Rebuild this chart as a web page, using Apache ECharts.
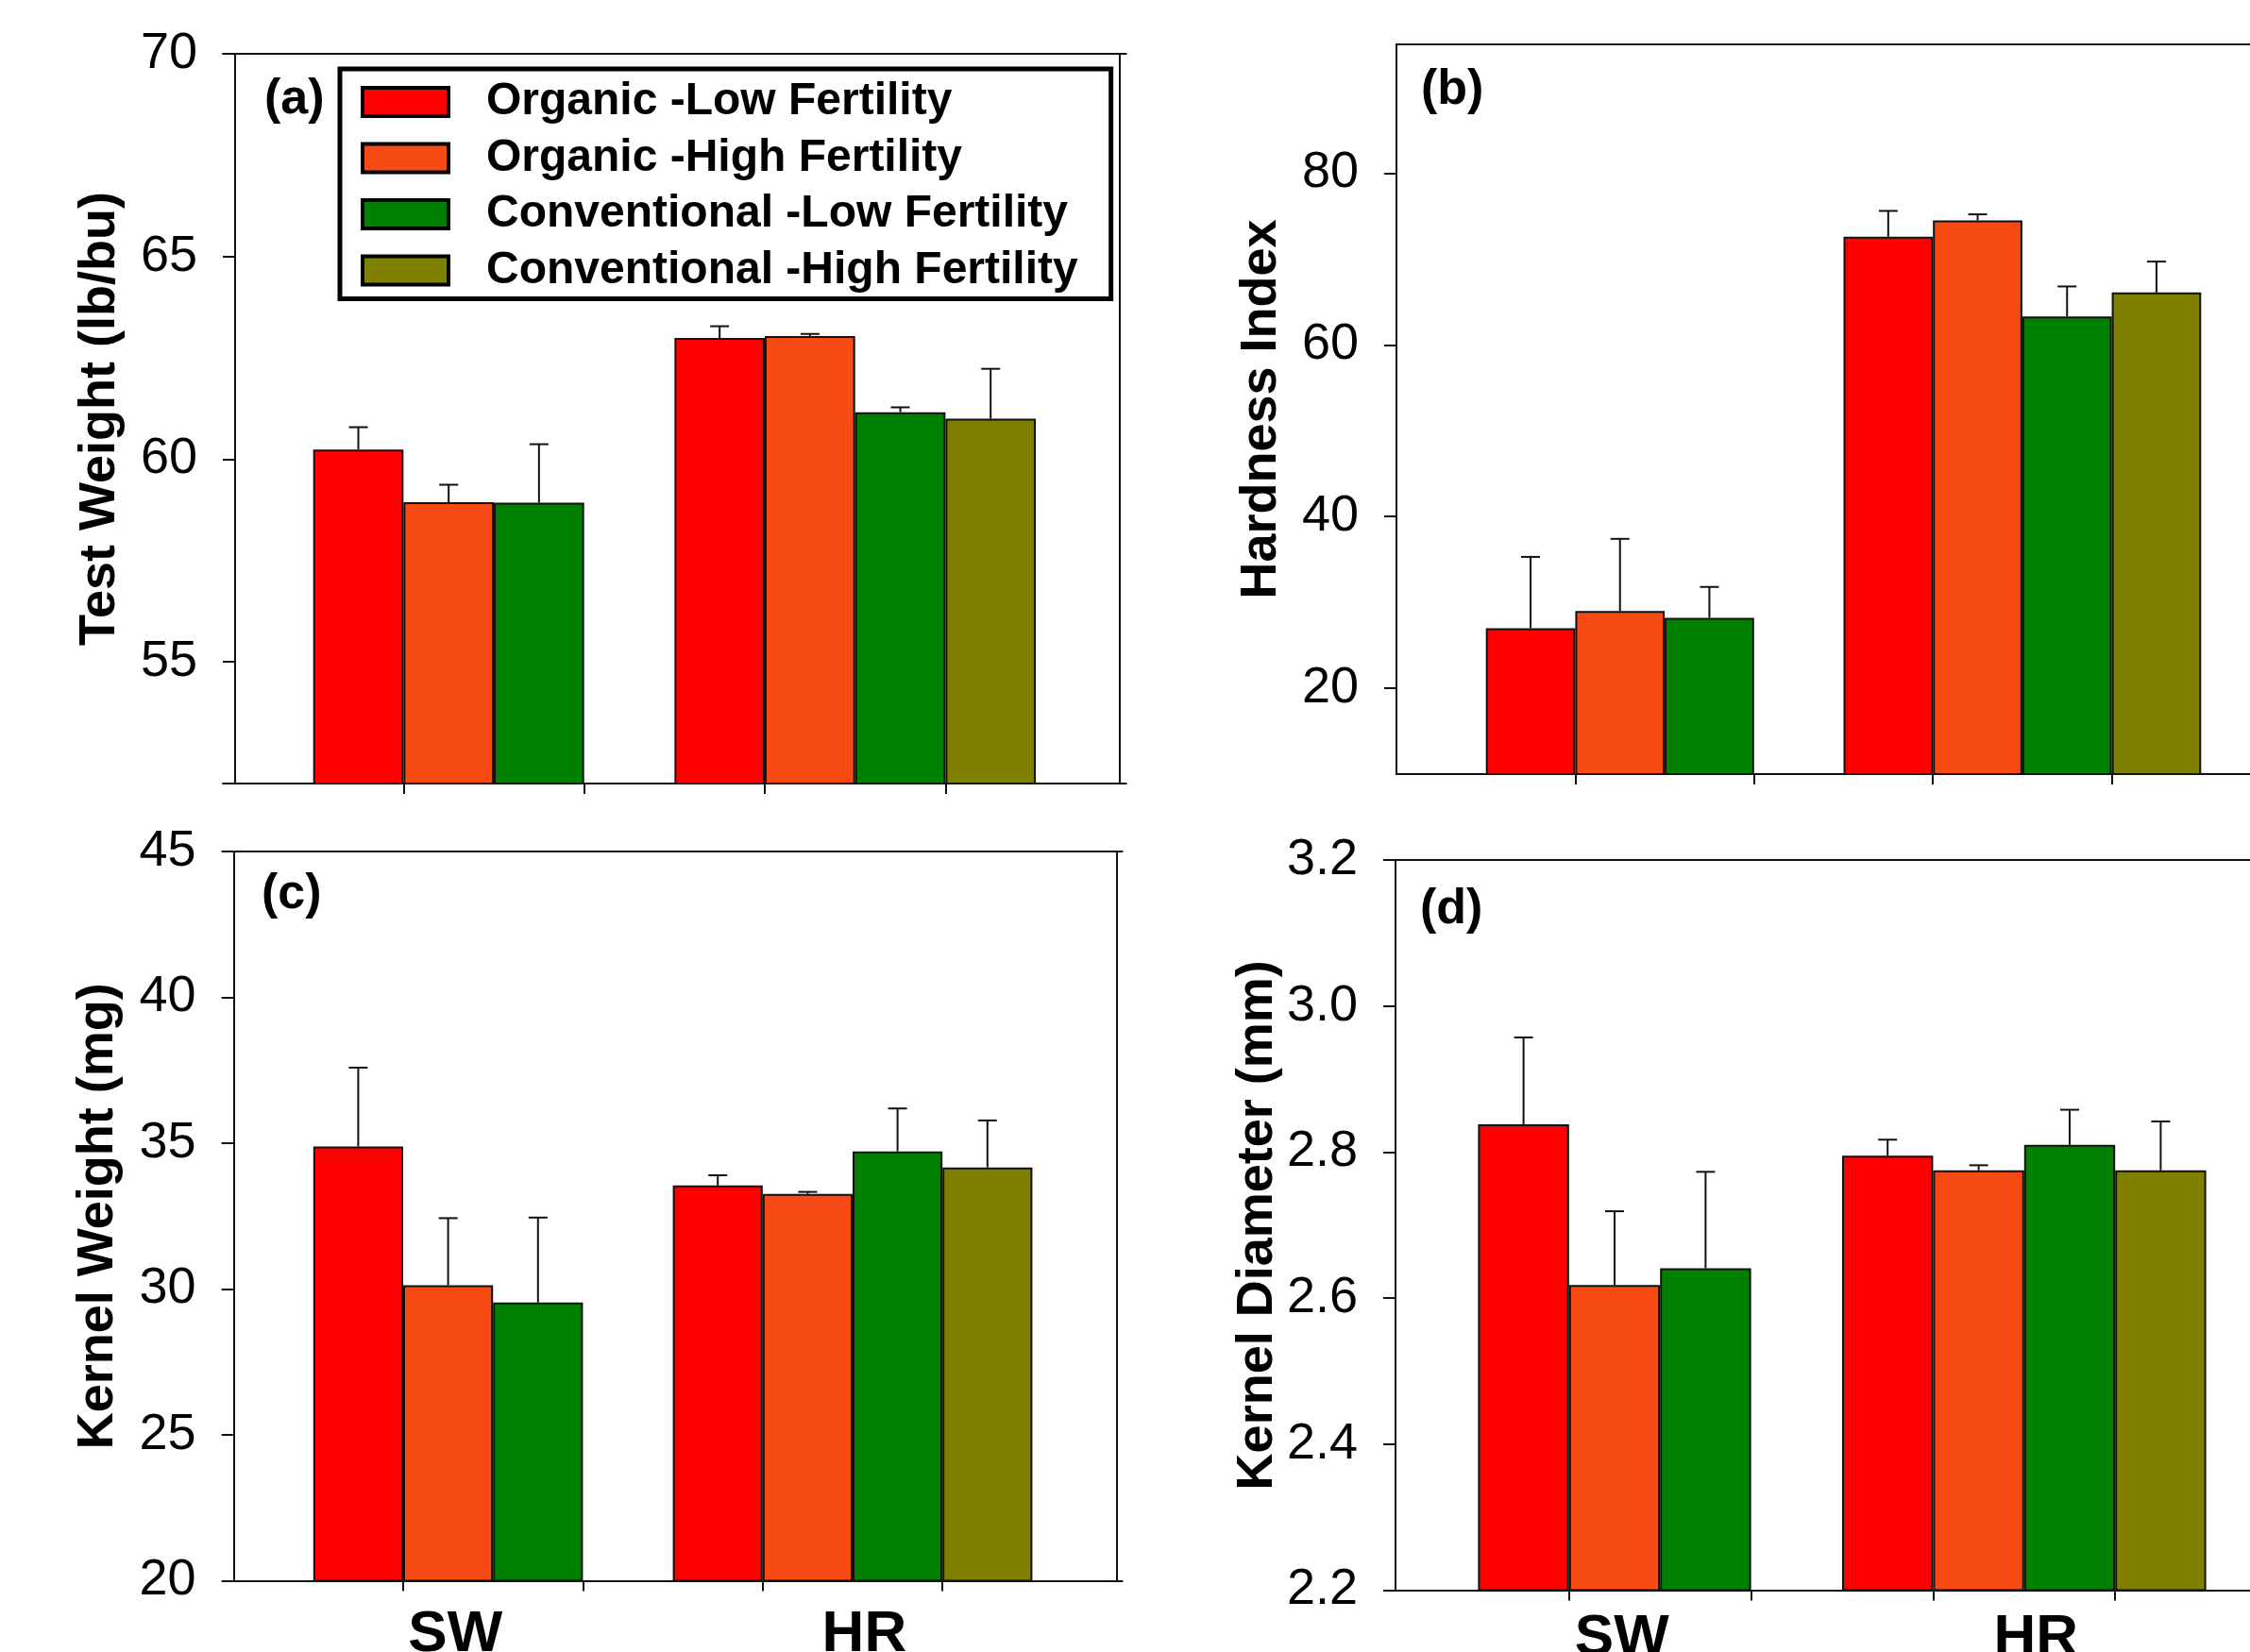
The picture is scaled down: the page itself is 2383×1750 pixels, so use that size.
<!DOCTYPE html>
<html>
<head>
<meta charset="utf-8">
<script src="https://cdn.jsdelivr.net/npm/echarts@6/dist/echarts.min.js"></script>
<style>
  html, body { margin: 0; padding: 0; background: #fff; }
  #chart { width: 2383px; height: 1750px; }
</style>
</head>
<body>
<div id="chart"></div>
<script>
// treatments (legend order) and wheat classes
var treatments = [
  "Organic -Low Fertility",
  "Organic -High Fertility",
  "Conventional -Low Fertility",
  "Conventional -High Fertility"
];
var classes = ["SW", "HR"];
var colors = ["#FF0000", "#F74A14", "#008000", "#808000"];

// means [SW, HR] per treatment, null = no data
var testWeight = [[60.24, 58.94, 58.93, null], [62.99, 63.04, 61.16, 61.0]];
var testWeightErr = [[0.55, 0.43, 1.44, null], [0.29, 0.05, 0.12, 1.23]];
var hardness = [[27.0, 29.0, 28.2, null], [72.6, 74.5, 63.3, 66.1]];
var hardnessErr = [[8.3, 8.4, 3.6, null], [3.0, 0.7, 3.5, 3.6]];
var kernelWeight = [[34.89, 30.13, 29.54, null], [33.55, 33.26, 34.72, 34.17]];
var kernelWeightErr = [[2.7, 2.3, 2.91, null], [0.35, 0.07, 1.47, 1.61]];
var kernelDiam = [[2.838, 2.618, 2.641, null], [2.795, 2.775, 2.81, 2.775]];
var kernelDiamErr = [[0.119, 0.101, 0.132, null], [0.022, 0.007, 0.048, 0.067]];

// y tick labels
var twTicks = [55, 60, 65, 70];
var hiTicks = [20, 40, 60, 80];
var kwTicks = [20, 25, 30, 35, 40, 45];
var kdTicks = [2.2, 2.4, 2.6, 2.8, 3.0, 3.2];

// 10 slots along x: empty, 4 SW, 4 HR, empty
var slotIds = ["s0", "s1", "s2", "s3", "s4", "s5", "s6", "s7", "s8", "s9"];
var tickSlots = [2, 4, 6, 8];   // slot boundaries carrying a tick

var FONT = "'Liberation Sans', Arial, sans-serif";
var INK = "#111";

var panels = [
  { title: "Test Weight (lb/bu)", tag: "(a)", mean: testWeight, err: testWeightErr,
    min: 52, max: 70, ticks: twTicks, dec: 0,
    grid: { left: 236, top: 57, width: 956.7, height: 773 }, yOff: -13, rOff: -7,
    showX: false, xMargin: 26, tagPos: [280, 80] },
  { title: "Hardness Index", tag: "(b)", mean: hardness, err: hardnessErr,
    min: 10, max: 95, ticks: hiTicks, dec: 0,
    grid: { left: 1479, top: 47, width: 947, height: 773 }, yOff: 0, rOff: 0,
    showX: false, xMargin: 26, tagPos: [1505, 70] },
  { title: "Kernel Weight (mg)", tag: "(c)", mean: kernelWeight, err: kernelWeightErr,
    min: 20, max: 45, ticks: kwTicks, dec: 0,
    grid: { left: 236.6, top: 902, width: 952, height: 772.5 }, yOff: -11, rOff: -5.6,
    showX: true, xMargin: 26, tagPos: [277, 922] },
  { title: "Kernel Diameter (mm)", tag: "(d)", mean: kernelDiam, err: kernelDiamErr,
    min: 2.2, max: 3.2, ticks: kdTicks, dec: 1,
    grid: { left: 1469, top: 911, width: 964, height: 773.6 }, yOff: -9, rOff: 0,
    showX: true, xMargin: 20, tagPos: [1504, 938] }
];
// where the class names sit along the slot scale (SW, HR)
var classLabelAt = [2.58, 7.13];

var option = {
  backgroundColor: "#fff",
  animation: false,
  grid: [],
  xAxis: [],
  yAxis: [],
  series: [],
  title: [],
  legend: {
    data: treatments,
    orient: "vertical",
    left: 360,
    top: 73,
    padding: [11, 35, 6, 22],
    itemGap: 11.5,
    itemWidth: 91,
    itemHeight: 30,
    icon: "rect",
    selectedMode: false,
    borderColor: "#000",
    borderWidth: 5,
    itemStyle: { borderColor: "#000", borderWidth: 4 },
    textStyle: {
      fontFamily: FONT,
      fontSize: 48,
      fontWeight: "bold",
      color: "#000",
      padding: [0, 0, 0, 35]
    }
  }
};

panels.forEach(function (p, pi) {
  option.grid.push({
    left: p.grid.left, top: p.grid.top, width: p.grid.width, height: p.grid.height,
    containLabel: false, outerBoundsMode: "none"
  });

  // category axis carrying the bars, drawn as the top frame line
  option.xAxis.push({
    type: "category",
    gridIndex: pi,
    data: slotIds,
    position: "top",
    boundaryGap: true,
    axisLine: { show: true, onZero: false, lineStyle: { color: INK, width: 2 } },
    axisTick: { show: false },
    axisLabel: { show: false },
    splitLine: { show: false }
  });
  // bottom axis on the same slot scale: ticks + class names
  option.xAxis.push({
    type: "value",
    gridIndex: pi,
    position: "bottom",
    min: 0,
    max: slotIds.length,
    axisLine: { show: true, onZero: false, lineStyle: { color: INK, width: 2 } },
    axisTick: { show: true, length: 11, customValues: tickSlots, lineStyle: { color: INK, width: 2 } },
    axisLabel: {
      show: p.showX,
      customValues: classLabelAt,
      margin: p.xMargin,
      fontFamily: FONT,
      fontSize: 62,
      fontWeight: "bold",
      color: "#000",
      formatter: function (v) {
        return classes[classLabelAt.indexOf(v)] || "";
      }
    },
    splitLine: { show: false }
  });

  option.yAxis.push({
    type: "value",
    gridIndex: pi,
    min: p.min,
    max: p.max,
    position: "left",
    offset: p.yOff,
    name: p.title,
    nameLocation: "middle",
    nameGap: 116,
    nameTextStyle: { fontFamily: FONT, fontSize: 54, fontWeight: "bold", color: "#000" },
    axisLine: { show: true, onZero: false, lineStyle: { color: INK, width: 2 } },
    axisTick: { show: true, length: 13, customValues: p.ticks, lineStyle: { color: INK, width: 2 } },
    axisLabel: {
      customValues: p.ticks,
      margin: 40,
      fontFamily: FONT,
      fontSize: 54,
      color: "#000",
      formatter: function (v) { return Number(v).toFixed(p.dec); }
    },
    splitLine: { show: false }
  });
  // right frame line
  option.yAxis.push({
    type: "value",
    gridIndex: pi,
    min: p.min,
    max: p.max,
    position: "right",
    offset: p.rOff,
    axisLine: { show: true, onZero: false, lineStyle: { color: INK, width: 2 } },
    axisTick: { show: false },
    axisLabel: { show: false },
    splitLine: { show: false }
  });

  // one bar series per treatment, all overlapping in the same band
  var errData = [];
  treatments.forEach(function (name, t) {
    var d = slotIds.map(function () { return "-"; });
    classes.forEach(function (c, g) {
      var v = p.mean[g][t];
      if (v == null) return;
      var slot = 1 + g * 4 + t;
      d[slot] = v;
      errData.push([slot, v, p.err[g][t]]);
    });
    option.series.push({
      name: name,
      type: "bar",
      xAxisIndex: pi * 2,
      yAxisIndex: pi * 2,
      barWidth: "100%",
      barGap: "-100%",
      data: d,
      itemStyle: { color: colors[t], borderColor: INK, borderWidth: 2 }
    });
  });

  // upper error bars
  option.series.push({
    type: "custom",
    xAxisIndex: pi * 2,
    yAxisIndex: pi * 2,
    z: 5,
    data: errData,
    encode: { x: 0, y: 1 },
    renderItem: function (params, api) {
      var base = api.coord([api.value(0), api.value(1)]);
      var top = api.coord([api.value(0), api.value(1) + api.value(2)]);
      var cap = 10;
      var st = { stroke: INK, lineWidth: 2 };
      return {
        type: "group",
        children: [
          { type: "line", shape: { x1: base[0], y1: base[1], x2: top[0], y2: top[1] }, style: st },
          { type: "line", shape: { x1: top[0] - cap, y1: top[1], x2: top[0] + cap, y2: top[1] }, style: st }
        ]
      };
    }
  });

  option.title.push({
    text: p.tag,
    left: p.tagPos[0],
    top: p.tagPos[1],
    padding: 0,
    textStyle: { fontFamily: FONT, fontSize: 52, fontWeight: "bold", color: "#000", lineHeight: 52 }
  });
});

var myChart = echarts.init(document.getElementById("chart"), null, { renderer: "canvas" });
myChart.setOption(option);
</script>
</body>
</html>
